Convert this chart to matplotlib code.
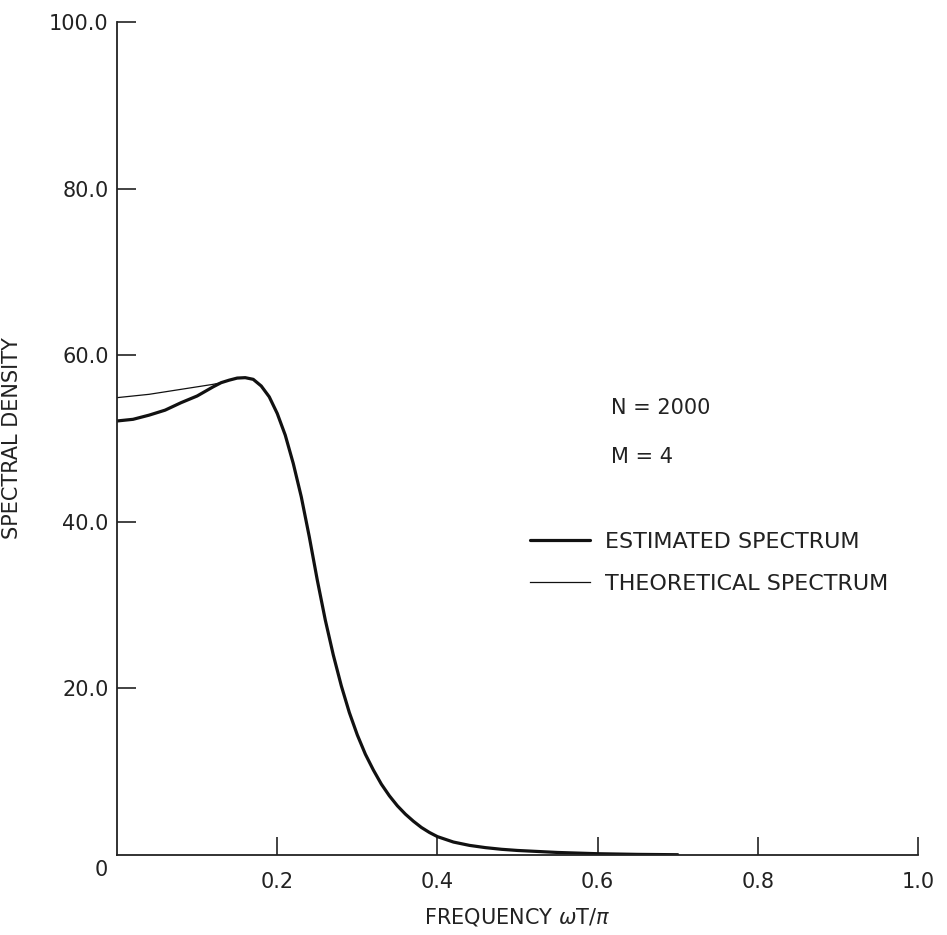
import matplotlib
matplotlib.use("Agg")
import matplotlib.pyplot as plt

plt.rcParams["font.family"] = ["DejaVu Sans"]

# spectral density vs normalised frequency
freq_est = [0.0, 0.02, 0.04, 0.06, 0.08, 0.10, 0.12, 0.13, 0.14, 0.15, 0.16,
            0.17, 0.18, 0.19, 0.20, 0.21, 0.22, 0.23, 0.24, 0.25, 0.26, 0.27,
            0.28, 0.29, 0.30, 0.31, 0.32, 0.33, 0.34, 0.35, 0.36, 0.37, 0.38,
            0.39, 0.40, 0.42, 0.44, 0.46, 0.48, 0.50, 0.55, 0.60, 0.65, 0.70]
estimated = [52.1, 52.3, 52.8, 53.4, 54.3, 55.1, 56.2, 56.7, 57.0, 57.25, 57.3,
             57.1, 56.3, 55.0, 53.0, 50.4, 47.0, 43.0, 38.2, 33.0, 28.2, 24.0,
             20.3, 17.1, 14.4, 12.1, 10.2, 8.5, 7.1, 5.9, 4.9, 4.05, 3.3,
             2.7, 2.2, 1.55, 1.15, 0.88, 0.68, 0.54, 0.3, 0.15, 0.07, 0.03]

freq_theo = [0.0, 0.02, 0.04, 0.06, 0.08, 0.10, 0.12, 0.13]
theoretical = [54.9, 55.1, 55.3, 55.6, 55.9, 56.2, 56.5, 56.7]

xticks = [0.2, 0.4, 0.6, 0.8, 1.0]
xtick_labels = ["0.2", "0.4", "0.6", "0.8", "1.0"]
yticks = [20, 40, 60, 80, 100]
ytick_labels = ["20.0", "40.0", "60.0", "80.0", "100.0"]

fig = plt.figure(figsize=(9.47, 9.35), dpi=100)
ax = fig.add_axes([0.1236, 0.0856, 0.8458, 0.8909])

ax.plot(freq_est, estimated, color="#111111", lw=2.3, solid_capstyle="round",
        solid_joinstyle="round", label="ESTIMATED SPECTRUM")
ax.plot(freq_theo, theoretical, color="#111111", lw=0.9,
        label="THEORETICAL SPECTRUM")

ax.set_xlim(0, 1.0)
ax.set_ylim(0, 100)
for side in ["top", "right"]:
    ax.spines[side].set_visible(False)
for side in ["left", "bottom"]:
    ax.spines[side].set_linewidth(1.3)
    ax.spines[side].set_color("#222222")

ax.set_xticks(xticks, xtick_labels)
ax.set_yticks(yticks, ytick_labels)
ax.tick_params(axis="x", direction="in", length=13, width=1.2, pad=12,
               labelsize=15, colors="#222222")
ax.tick_params(axis="y", direction="in", length=14, width=1.2, pad=6,
               labelsize=15, colors="#222222")
# lone origin label sits left of the corner
ax.text(-0.012, -0.006, "0", transform=ax.transAxes, ha="right", va="top",
        fontsize=15, color="#222222")

ax.set_xlabel("FREQUENCY $\\omega$T/$\\pi$", fontsize=15, labelpad=10,
              color="#222222")
ax.set_ylabel("SPECTRAL DENSITY", fontsize=15, color="#222222")
ax.yaxis.set_label_coords(-0.119, 0.5)

ax.text(0.617, 0.536, "N = 2000", transform=ax.transAxes, fontsize=15,
        va="center", color="#222222")
ax.text(0.617, 0.478, "M = 4", transform=ax.transAxes, fontsize=15,
        va="center", color="#222222")

ax.legend(loc="upper left", bbox_to_anchor=(0.49, 0.412), frameon=False,
          fontsize=16, handlelength=2.7, handletextpad=0.7, labelspacing=1.0,
          labelcolor="#222222")

fig.savefig("out.png", dpi=100, facecolor="white")
